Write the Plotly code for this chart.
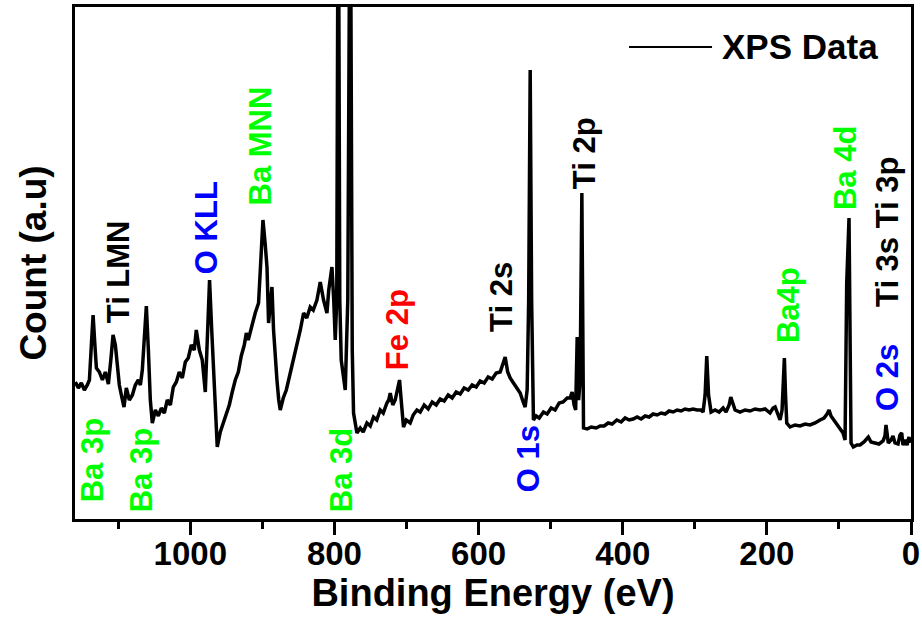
import plotly.graph_objects as go

# Binding energy (eV)
binding_energy = [
    1159.5, 1155.3, 1151.2, 1147.0, 1142.9, 1140.0, 1137.3, 1134.9, 1132.4, 1130.3,
    1126.2, 1122.0, 1117.9, 1113.7, 1110.3, 1107.2, 1104.0, 1101.2, 1098.5, 1095.7,
    1092.0, 1088.8, 1084.6, 1080.4, 1076.3, 1072.1, 1069.3, 1066.6, 1063.8, 1061.0,
    1058.2, 1055.5, 1052.7, 1048.5, 1044.4, 1040.2, 1036.1, 1031.9, 1027.7, 1023.6,
    1019.4, 1015.3, 1011.1, 1006.9, 1002.8, 998.6, 994.5, 991.7, 987.5, 983.4,
    979.2, 976.4, 973.3, 970.3, 966.8, 962.6, 958.4, 954.2, 950.1, 945.9,
    941.8, 937.6, 933.4, 929.3, 925.1, 922.3, 919.6, 914.4, 909.9, 905.3,
    902.2, 899.2, 896.0, 893.6, 891.4, 889.0, 886.7, 884.5, 882.1, 879.8,
    877.3, 875.2, 871.0, 866.8, 861.3, 857.1, 852.0, 847.4, 842.8, 838.4,
    833.6, 829.4, 824.3, 821.8, 819.7, 815.1, 810.4, 807.9, 803.5, 801.0,
    798.9, 796.8, 794.7, 792.6, 790.6, 785.0, 781.5, 778.1, 775.3, 773.5,
    768.8, 764.2, 760.1, 754.9, 750.3, 745.8, 741.3, 736.5, 732.3, 727.2,
    724.7, 722.6, 719.1, 715.7, 712.9, 709.7, 707.4, 704.2, 700.4, 694.9,
    690.7, 685.6, 681.0, 675.5, 669.9, 664.4, 658.8, 653.3, 647.7, 642.2,
    636.6, 631.1, 625.5, 620.0, 614.4, 608.9, 603.3, 597.8, 592.2, 586.7,
    581.1, 575.6, 570.0, 566.6, 563.1, 559.6, 556.2, 551.6, 547.2, 542.3,
    538.1, 535.4, 532.6, 530.5, 528.4, 526.4, 523.9, 520.1, 515.9, 510.0,
    504.9, 499.3, 493.8, 488.2, 482.7, 477.1, 473.0, 470.2, 467.4, 465.3,
    463.2, 461.2, 459.1, 456.7, 454.4, 449.4, 443.8, 436.9, 431.3, 425.8,
    420.2, 414.7, 408.2, 402.2, 396.7, 391.1, 385.6, 380.0, 374.5, 368.9,
    363.4, 357.8, 352.3, 346.7, 341.2, 335.6, 330.1, 324.5, 319.0, 313.5,
    307.9, 302.4, 296.8, 291.3, 288.5, 285.7, 283.4, 280.9, 277.4, 271.8,
    266.3, 260.7, 256.6, 252.4, 250.1, 246.9, 244.1, 237.2, 230.3, 223.3,
    216.4, 209.4, 202.5, 195.6, 191.4, 188.6, 184.5, 181.7, 178.9, 177.1,
    175.7, 174.1, 172.4, 167.8, 160.9, 154.0, 147.0, 140.1, 133.1, 126.2,
    120.7, 116.5, 113.7, 111.0, 106.8, 102.6, 98.5, 94.3, 91.5, 90.2,
    89.2, 86.0, 84.6, 83.2, 80.0, 74.9, 70.7, 65.2, 59.2, 55.5,
    50.0, 44.4, 38.8, 36.1, 34.7, 33.3, 31.5, 27.7, 25.0, 22.2,
    18.0, 15.3, 12.9, 11.1, 8.3, 5.5, 2.8, 1.4,
]

# Intensity (a.u.)
counts = [
    137, 131, 136, 129, 134, 139, 174, 204, 174, 151,
    147, 139, 147, 135, 159, 184, 174, 151, 134, 124,
    112, 131, 119, 124, 134, 139, 134, 149, 184, 213,
    169, 119, 96, 109, 103, 111, 106, 119, 114, 132,
    137, 147, 141, 157, 161, 174, 169, 189, 169, 159,
    127, 189, 239, 189, 129, 72, 87, 97, 105, 114,
    127, 139, 147, 163, 174, 186, 179, 194, 206, 216,
    259, 299, 274, 252, 196, 219, 232, 189, 159, 139,
    119, 109, 121, 129, 146, 159, 172, 189, 206, 201,
    212, 209, 219, 229, 237, 219, 206, 229, 252, 219,
    179, 219, 700, 219, 159, 129, 219, 700, 169, 106,
    86, 91, 87, 96, 93, 102, 99, 109, 106, 116,
    119, 126, 114, 119, 127, 139, 119, 92, 99, 96,
    104, 109, 107, 114, 110, 117, 114, 120, 118, 124,
    121, 127, 125, 131, 129, 134, 132, 138, 136, 142,
    140, 146, 147, 154, 162, 147, 141, 136, 131, 126,
    117, 112, 129, 219, 449, 219, 99, 103, 101, 107,
    105, 111, 109, 116, 117, 121, 121, 127, 114, 109,
    182, 119, 139, 326, 91, 90, 92, 91, 93, 93,
    96, 95, 99, 97, 101, 99, 100, 102, 100, 103,
    102, 105, 104, 106, 105, 108, 107, 109, 108, 110,
    109, 110, 109, 109, 107, 124, 163, 124, 107, 109,
    107, 111, 107, 114, 122, 114, 109, 107, 109, 108,
    110, 109, 110, 106, 111, 112, 105, 99, 109, 139,
    161, 124, 96, 92, 94, 93, 95, 94, 96, 99,
    101, 105, 109, 103, 99, 95, 91, 86, 79, 139,
    236, 301, 189, 76, 72, 74, 74, 77, 82, 77,
    76, 75, 78, 83, 94, 83, 76, 79, 83, 76,
    75, 84, 86, 74, 79, 74, 82, 76,
]
assert len(binding_energy) == len(counts)

# Peak labels: text, energy, intensity position, colour
label_text = ["Ba 3p", "Ba 3p", "Ti LMN", "O KLL", "Ba MNN", "Ba 3d", "Fe 2p",
              "Ti 2s", "O 1s", "Ti 2p", "Ba4p", "Ba 4d", "Ti 3s Ti 3p", "O 2s"]
label_energy = [1136, 1068, 1100, 978, 904, 790.6, 713, 569, 531, 453.5, 170.6, 91.5, 33.3, 33.3]
label_count = [59, 49, 247, 291, 373, 49, 189, 222, 60, 366, 214, 351, 287, 141]
label_color = ["#00ff00", "#00ff00", "#000000", "#0000ff", "#00ff00", "#00ff00", "#ff0000",
               "#000000", "#0000ff", "#000000", "#00ff00", "#00ff00", "#000000", "#0000ff"]

x_ticks = [1000, 800, 600, 400, 200, 0]
FONT = "Liberation Sans, Arial, sans-serif"

fig = go.Figure()
fig.add_trace(go.Scatter(
    x=binding_energy, y=counts, mode="lines",
    line=dict(color="black", width=3.5), name="XPS Data", showlegend=False,
))

for t, e, c, col in zip(label_text, label_energy, label_count, label_color):
    fig.add_annotation(x=e, y=c, xref="x", yref="y", text=t, showarrow=False,
                       textangle=-90, xanchor="center", yanchor="middle",
                       font=dict(family=FONT, size=31, color=col, weight="bold"))

# Legend sample drawn as line + text
fig.add_shape(type="line", xref="paper", yref="paper", x0=0.6627, x1=0.762, y0=0.922, y1=0.922,
              line=dict(color="black", width=2))
fig.add_annotation(x=0.7715, y=0.922, xref="paper", yref="paper", text="XPS Data",
                   showarrow=False, xanchor="left", yanchor="middle",
                   font=dict(family=FONT, size=35, color="black", weight="bold"))

fig.update_layout(
    width=922, height=624,
    margin=dict(l=75, r=11, t=7, b=105, autoexpand=False),
    paper_bgcolor="white", plot_bgcolor="white",
    showlegend=False,
    xaxis=dict(
        range=[1160, 0], tickvals=x_ticks, ticktext=[str(v) for v in x_ticks],
        automargin=False,
        showgrid=False, zeroline=False, showline=True, linecolor="black", linewidth=3,
        mirror=True, ticks="outside", ticklen=13, tickwidth=3, tickcolor="black",
        ticklabelstandoff=-10,
        minor=dict(dtick=100, tick0=0, ticks="outside", ticklen=7, tickwidth=3, tickcolor="black"),
        tickfont=dict(family=FONT, size=33, color="black", weight="bold"),
        title=dict(text="Binding Energy (eV)", standoff=4,
                   font=dict(family=FONT, size=38, color="black", weight="bold")),
    ),
    yaxis=dict(
        range=[0, 512], showticklabels=False, ticks="", showgrid=False, zeroline=False,
        automargin=False,
        showline=True, linecolor="black", linewidth=3, mirror=True,
        title=dict(text="Count (a.u)",
                   font=dict(family=FONT, size=37, color="black", weight="bold")),
    ),
)

fig.write_html("out.html", config={"displayModeBar": False},
               post_script="document.body.style.margin='0';document.body.style.overflow='hidden';")
